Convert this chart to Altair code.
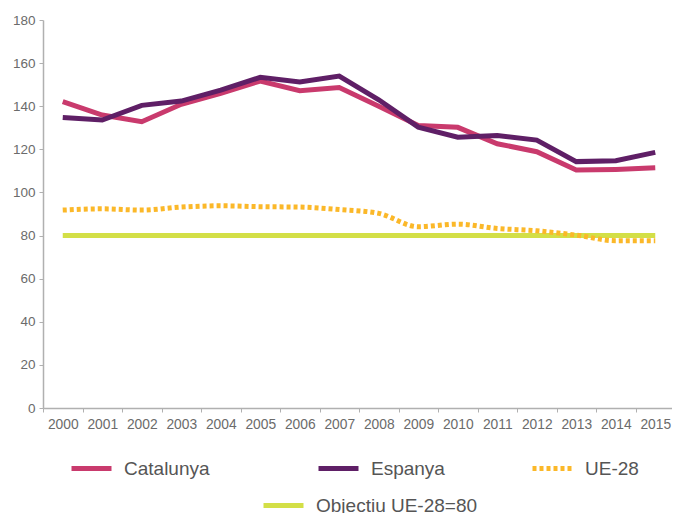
import altair as alt
import pandas as pd

years = [str(y) for y in range(2000, 2016)]
catalunya = [142.1, 135.9, 132.8, 140.9, 146.0, 151.7, 147.2, 148.7, 140.0, 131.1, 130.2, 122.6, 118.9, 110.4, 110.7, 111.4]
espanya = [134.8, 133.6, 140.4, 142.4, 147.5, 153.4, 151.2, 154.0, 143.0, 130.3, 125.6, 126.4, 124.3, 114.3, 114.7, 118.6]
ue28 = [91.8, 92.4, 91.8, 93.2, 93.8, 93.4, 93.2, 92.1, 90.3, 84.1, 85.3, 83.3, 82.2, 80.2, 77.6, 77.6]
objectiu = [80] * 16

names = ["Catalunya", "Espanya", "UE-28", "Objectiu UE-28=80"]
colors = ["#c93a6d", "#5f1f66", "#fbb829", "#d3df47"]
series_values = [catalunya, espanya, ue28, objectiu]

FONT = "Liberation Sans"

x_enc = alt.X(
    "year:O",
    scale=alt.Scale(type="band", paddingInner=0, paddingOuter=0),
    axis=alt.Axis(
        title=None, labelAngle=0, tickBand="extent", labelFontSize=13.8,
        labelColor="#6b6b6b", labelFont=FONT, labelPadding=5, tickSize=4,
        domainColor="#b0b0b0", tickColor="#b0b0b0", domainWidth=1.5,
    ),
)
y_enc = alt.Y(
    "value:Q",
    scale=alt.Scale(domain=[0, 180]),
    axis=alt.Axis(
        title=None, values=list(range(0, 181, 20)), grid=False, labelFontSize=13.5,
        labelColor="#6b6b6b", labelFont=FONT, labelPadding=4, tickSize=4,
        domainColor="#b0b0b0", tickColor="#b0b0b0", domainWidth=1.5,
    ),
)

legend_pos = [(26, 426), (273, 426), (487, 426), (218, 463)]

layers = []
for i, (name, col, vals) in enumerate(zip(names, colors, series_values)):
    df = pd.DataFrame({"year": years, "value": vals, "series": name})
    dash = [4, 3] if name == "UE-28" else [1, 0]
    mark_kwargs = dict(strokeWidth=5)
    if name == "UE-28":
        mark_kwargs.update(strokeDash=[4, 3], interpolate="monotone")
    lx, ly = legend_pos[i]
    layer = alt.Chart(df).mark_line(**mark_kwargs).encode(
        x=x_enc,
        y=y_enc,
        color=alt.Color(
            "series:N",
            scale=alt.Scale(domain=[name], range=[col]),
            legend=alt.Legend(
                title=None, orient="none", legendX=lx, legendY=ly,
                symbolType="stroke", symbolSize=1600, symbolStrokeWidth=5,
                symbolDash=dash, labelFontSize=19, labelFont=FONT,
                labelColor="#555555", labelOffset=10, padding=0, labelLimit=400,
            ),
        ),
    )
    layers.append(layer)

chart = alt.layer(layers[3], layers[2], layers[0], layers[1]).resolve_scale(
    color="independent"
).properties(
    width=632,
    height=388,
    autosize=alt.AutoSizeParams(type="none"),
    padding={"left": 35, "top": 12, "right": -3, "bottom": 115},
).configure_view(stroke=None)

chart.save("out.html", embed_options={"renderer": "svg", "actions": False})
